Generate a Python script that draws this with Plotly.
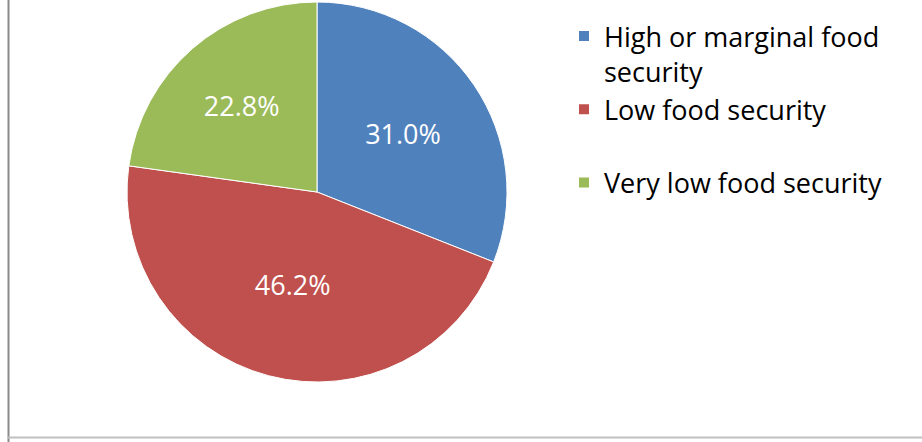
import plotly.graph_objects as go

categories = ["High or marginal food<br>security", "Low food security<br> ", "Very low food security"]
values = [31.0, 46.2, 22.8]
colors = ["#4F81BD", "#C0504D", "#9BBB59"]

W, H = 922, 442
cx, cy, r = 317, 192, 190

fig = go.Figure(go.Pie(
    labels=categories,
    values=values,
    sort=False,
    direction="clockwise",
    rotation=0,
    marker=dict(colors=colors, line=dict(color="white", width=1)),
    texttemplate="%{value:.1f}%",
    textposition="inside",
    insidetextorientation="horizontal",
    textfont=dict(family="Open Sans", size=27, color="white"),
    domain=dict(x=[(cx - r) / W, (cx + r) / W], y=[(H - cy - r) / H, (H - cy + r) / H]),
    hoverinfo="skip",
))

fig.update_layout(
    width=W, height=H,
    margin=dict(l=0, r=0, t=0, b=0),
    paper_bgcolor="white",
    showlegend=True,
    legend=dict(
        x=564 / W, y=1 - 12 / H, xanchor="left", yanchor="top",
        font=dict(family="Open Sans", size=27, color="black"),
        valign="top",
        itemsizing="constant",
        tracegroupgap=0,
    ),
    shapes=[
        dict(type="line", xref="paper", yref="paper", x0=8.5 / W, x1=8.5 / W, y0=0, y1=1,
             line=dict(color="#8a8a8a", width=2)),
        dict(type="line", xref="paper", yref="paper", x0=8 / W, x1=1, y0=(H - 437.5) / H, y1=(H - 437.5) / H,
             line=dict(color="#c0c0c0", width=2)),
    ],
)

fig.write_html("out.html")
